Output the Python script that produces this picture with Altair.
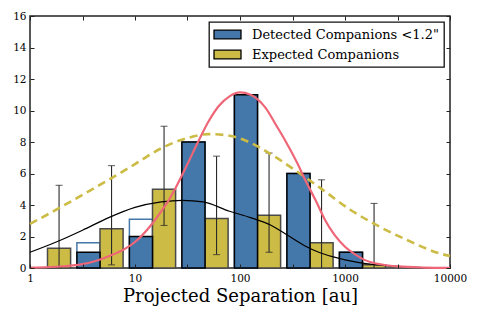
import altair as alt
import pandas as pd

# ---------------- data ----------------
bin_centers = [1.468, 4.642, 14.68, 46.42, 146.8, 464.2, 1468.0]   # au, boundary between paired bars
detected = [0, 1, 2, 8, 11, 6, 1]
detected_all = [0, 1.6, 3.1, 8, 11, 6, 1]          # hollow outlined bars
expected = [1.25, 2.5, 5.0, 3.15, 3.35, 1.6, 0.2]
err_low = [0.05, 0.2, 2.7, 0.85, 1.0, 0.0, 0.0]
err_high = [5.25, 6.5, 9.0, 7.1, 7.3, 5.6, 4.1]

red_logsep = [0.0, 0.25, 0.5, 0.6, 0.75, 0.9, 1.0, 1.15, 1.25, 1.33, 1.38, 1.5, 1.6, 1.7,
              1.8, 1.9, 2.0, 2.1, 2.24, 2.35, 2.43, 2.55, 2.62, 2.72, 2.81, 2.9, 3.0, 3.1,
              3.19, 3.35, 3.5, 3.75, 4.0]
red_vals = [0.02, 0.08, 0.25, 0.4, 0.75, 1.2, 1.65, 2.7, 3.6, 4.4, 5.0, 6.6, 8.0, 9.3,
            10.3, 10.9, 11.15, 11.0, 10.2, 9.0, 8.1, 6.6, 5.6, 4.3, 3.05, 2.1, 1.35, 0.85,
            0.5, 0.22, 0.1, 0.03, 0.01]

black_logsep = [0.0, 0.25, 0.5, 0.75, 1.0, 1.25, 1.45, 1.65, 1.9, 2.1, 2.29, 2.45, 2.62,
                2.75, 2.88, 3.0, 3.12, 3.3, 3.5, 3.75, 4.0]
black_vals = [1.0, 1.65, 2.4, 3.2, 3.85, 4.2, 4.3, 4.2, 3.6, 3.2, 2.73, 2.1, 1.4,
              1.0, 0.72, 0.52, 0.36, 0.2, 0.1, 0.03, 0.01]

gold_logsep = [0.0, 0.25, 0.5, 0.75, 1.0, 1.25, 1.5, 1.7, 1.9, 2.1, 2.3, 2.57, 2.76, 3.05,
               3.33, 3.59, 3.9, 4.0]
gold_vals = [2.8, 3.7, 4.65, 5.6, 6.6, 7.6, 8.25, 8.5, 8.4, 7.95, 7.2, 6.0, 5.1, 3.7,
             2.62, 1.78, 0.93, 0.76]

x_major = [1, 10, 100, 1000, 10000]
x_minor_exp = [0, 0.5, 1, 1.5, 2, 2.5, 3, 3.5, 4]
y_ticks = [0, 2, 4, 6, 8, 10, 12, 14, 16]

label_det = 'Detected Companions <1.2"'
label_exp = "Expected Companions"

# ---------------- styles ----------------
BLUE = "#4477AA"
GOLD = "#CCBB44"
RED = "#EE6677"
SERIF = "DejaVu Serif"
W, H = 420, 252
BAR_DEX = 0.22

fac = 10 ** BAR_DEX
half = 10 ** (BAR_DEX / 2)
bins = pd.DataFrame({
    "c": bin_centers, "det": detected, "det_all": detected_all, "exp": expected,
    "lo": err_low, "hi": err_high,
})
bins["b0"] = bins["c"] / fac
bins["b1"] = bins["c"]
bins["g0"] = bins["c"]
bins["g1"] = bins["c"] * fac
bins["ex"] = bins["c"] * half
bins["s_det"] = label_det
bins["s_exp"] = label_exp

caps = pd.concat([
    pd.DataFrame({"ex": bins["ex"], "v": bins["lo"]}),
    pd.DataFrame({"ex": bins["ex"], "v": bins["hi"]}),
])
caps = caps[caps["v"] > 0.01]

red_df = pd.DataFrame({"x": [10 ** v for v in red_logsep], "y": red_vals})
black_df = pd.DataFrame({"x": [10 ** v for v in black_logsep], "y": black_vals})
gold_df = pd.DataFrame({"x": [10 ** v for v in gold_logsep], "y": gold_vals})

xs = alt.Scale(type="log", domain=[1, 10000], nice=False)
ys = alt.Scale(domain=[0, 16], nice=False)
minor_vals = [10 ** e for e in x_minor_exp]

ax_x_main = alt.Axis(orient="bottom", values=x_major, format="d", tickSize=0, labelPadding=5,
                     labelFlush=False, grid=False, domain=False, title="Projected Separation [au]",
                     titleFont=SERIF, titleFontSize=18, titleFontWeight="normal",
                     titlePadding=4, titleColor="black")
ax_y_main = alt.Axis(orient="left", values=y_ticks, tickSize=0, labelPadding=4, grid=False,
                     domain=False, title=None)
tick_common = dict(labels=False, tickSize=4, tickColor="#222", tickWidth=1, grid=False,
                   domain=False, title=None, zindex=2)
ax_x_bot = alt.Axis(orient="top", offset=-H, values=minor_vals, **tick_common)
ax_x_top = alt.Axis(orient="bottom", offset=-H, values=minor_vals, **tick_common)
ax_y_left = alt.Axis(orient="right", offset=-W, values=y_ticks, **tick_common)
ax_y_right = alt.Axis(orient="left", offset=-W, values=y_ticks, **tick_common)

color_scale = alt.Scale(domain=[label_det, label_exp], range=[BLUE, GOLD])
legend = alt.Legend(
    title=None, orient="top-right", offset=6, padding=5, strokeColor="#111",
    fillColor="white", symbolType="M-2,-0.66H2V0.66H-2Z", symbolSize=182,
    symbolStrokeColor="black", symbolStrokeWidth=1.3, symbolOpacity=1,
    symbolOffset=6, labelFont=SERIF, labelFontSize=13, labelColor="black",
    labelOffset=17, labelLimit=400, rowPadding=5,
)

hollow = alt.Chart(bins[bins["det_all"] > 0]).mark_rect(
    fill="white", fillOpacity=0, stroke=BLUE, strokeWidth=1.5
).encode(
    x=alt.X("b0:Q", scale=xs, axis=ax_x_main), x2="b1:Q",
    y=alt.Y("det_all:Q", scale=ys, axis=ax_y_main), y2=alt.datum(0),
)

gold_bars = alt.Chart(bins).mark_rect(stroke="#4a4a4a", strokeWidth=1.5).encode(
    x=alt.X("g0:Q", scale=xs, axis=ax_x_bot), x2="g1:Q",
    y=alt.Y("exp:Q", scale=ys, axis=ax_y_left), y2=alt.datum(0),
    fill=alt.Fill("s_exp:N", scale=color_scale, legend=legend),
)

blue_bars = alt.Chart(bins[bins["det"] > 0]).mark_rect(stroke="black", strokeWidth=1.5).encode(
    x=alt.X("b0:Q", scale=xs, axis=ax_x_top), x2="b1:Q",
    y=alt.Y("det:Q", scale=ys, axis=ax_y_right), y2=alt.datum(0),
    fill=alt.Fill("s_det:N", scale=color_scale, legend=legend),
)

err = alt.Chart(bins).mark_rule(color="#2a2a2a", strokeWidth=1.1).encode(
    x=alt.X("ex:Q", scale=xs, axis=None),
    y=alt.Y("lo:Q", scale=ys, axis=None), y2="hi:Q",
)
cap = alt.Chart(caps).mark_tick(orient="horizontal", size=7, thickness=1.1, color="#2a2a2a").encode(
    x=alt.X("ex:Q", scale=xs, axis=None),
    y=alt.Y("v:Q", scale=ys, axis=None),
)

black_line = alt.Chart(black_df).mark_line(color="black", strokeWidth=1.2, interpolate="monotone").encode(
    x=alt.X("x:Q", scale=xs, axis=None), y=alt.Y("y:Q", scale=ys, axis=None))
gold_line = alt.Chart(gold_df).mark_line(color=GOLD, strokeWidth=2.6, strokeDash=[8, 5],
                                         interpolate="monotone").encode(
    x=alt.X("x:Q", scale=xs, axis=None), y=alt.Y("y:Q", scale=ys, axis=None))
red_line = alt.Chart(red_df).mark_line(color=RED, strokeWidth=2.2, interpolate="monotone").encode(
    x=alt.X("x:Q", scale=xs, axis=None), y=alt.Y("y:Q", scale=ys, axis=None))

chart = alt.layer(
    hollow, gold_bars, blue_bars, err, cap, black_line, gold_line, red_line
).resolve_axis(x="independent", y="independent").properties(
    width=W, height=H,
    padding={"left": 22, "top": 8, "right": 20, "bottom": 40},
    autosize=alt.AutoSizeParams(type="none"),
).configure_view(
    stroke="#222", strokeWidth=1.5
).configure_axis(
    labelFont=SERIF, labelFontSize=10.5, labelColor="black",
).configure_legend(
    strokeWidth=1.3,
)

chart.save("out.html", embed_options={"renderer": "svg", "actions": False})
